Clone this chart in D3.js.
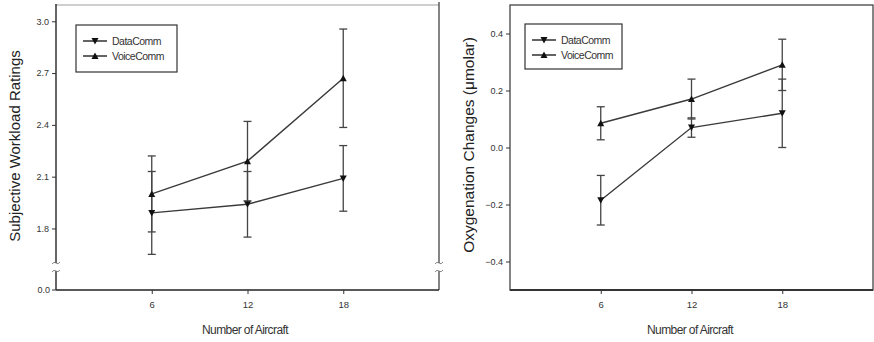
<!DOCTYPE html>
<html><head><meta charset="utf-8">
<script src="https://cdn.jsdelivr.net/npm/d3@7"></script>
<style>body{margin:0;background:#fff}svg{display:block}text{font-family:"Liberation Sans",Arial,sans-serif}</style>
</head><body><svg id="c" width="874" height="342"></svg>
<script>
// ---- data ----
const aircraft = [6, 12, 18];
const seriesNames = ["DataComm", "VoiceComm"];
// Left panel: Subjective Workload Ratings
const workloadData = [1.89, 1.94, 2.09];
const workloadDataErr = [0.24, 0.19, 0.19];
const workloadVoice = [2.00, 2.19, 2.67];
const workloadVoiceErr = [0.22, 0.23, 0.285];
const workloadTicks = [1.8, 2.1, 2.4, 2.7, 3.0];
// Right panel: Oxygenation Changes
const oxyData = [-0.185, 0.07, 0.12];
const oxyDataErr = [0.087, 0.034, 0.12];
const oxyVoice = [0.085, 0.17, 0.29];
const oxyVoiceErr = [0.058, 0.07, 0.09];
const oxyTicks = [-0.4, -0.2, 0.0, 0.2, 0.4];
const xTicks = [6, 12, 18];

const svg = d3.select("#c");
const fmt = d3.format(".1f");
const lineCol = "#3a3a3a";

function panel(cfg) {
  const g = svg.append("g");
  const x = d3.scaleLinear().domain([0, 24]).range([cfg.x0, cfg.x1]);
  const y = d3.scaleLinear().domain(cfg.yDomain).range([cfg.yBot, cfg.yTop]);

  // frame
  if (cfg.box) {
    g.append("rect").attr("x", cfg.x0).attr("y", cfg.yTop).attr("width", cfg.x1 - cfg.x0)
      .attr("height", cfg.plotBot - cfg.yTop).attr("fill", "none").attr("stroke", "#444").attr("stroke-width", 1.3);
    g.append("line").attr("x1", cfg.x0).attr("x2", cfg.x1).attr("y1", cfg.plotBot).attr("y2", cfg.plotBot)
      .attr("stroke", "#333").attr("stroke-width", 2);
  } else {
    g.append("line").attr("x1", cfg.x0).attr("x2", cfg.x1).attr("y1", cfg.yTop + 1).attr("y2", cfg.yTop + 1)
      .attr("stroke", "#cfcfcf").attr("stroke-width", 2);
    g.append("line").attr("x1", cfg.x0).attr("x2", cfg.x1).attr("y1", cfg.plotBot).attr("y2", cfg.plotBot)
      .attr("stroke", "#222").attr("stroke-width", 1.6);
    // left axis with break
    g.append("line").attr("x1", cfg.x0).attr("x2", cfg.x0).attr("y1", cfg.yTop).attr("y2", cfg.yBot)
      .attr("stroke", "#333").attr("stroke-width", 1.5);
    g.append("line").attr("x1", cfg.x0).attr("x2", cfg.x0).attr("y1", cfg.yBot + 8).attr("y2", cfg.plotBot)
      .attr("stroke", "#333").attr("stroke-width", 1.5);
    g.append("line").attr("x1", cfg.x1).attr("x2", cfg.x1).attr("y1", cfg.yTop - 2).attr("y2", cfg.yBot)
      .attr("stroke", "#333").attr("stroke-width", 1.2);
    g.append("line").attr("x1", cfg.x1).attr("x2", cfg.x1).attr("y1", cfg.yBot + 8).attr("y2", cfg.plotBot)
      .attr("stroke", "#333").attr("stroke-width", 1.2);
    [cfg.x0, cfg.x1].forEach(ax => {
      [cfg.yBot, cfg.yBot + 8].forEach(yy => {
        g.append("path").attr("d", `M${ax - 4},${yy + 1} q2,-3 4,-1 q2,2 4,-1`)
          .attr("fill", "none").attr("stroke", "#777").attr("stroke-width", 0.9);
      });
    });
    // 0.0 tick at bottom
    g.append("line").attr("x1", cfg.x0 - 4).attr("x2", cfg.x0).attr("y1", cfg.plotBot).attr("y2", cfg.plotBot).attr("stroke", "#333");
    g.append("text").attr("x", cfg.x0 - 6).attr("y", cfg.plotBot + 3).attr("text-anchor", "end")
      .attr("font-size", 9).attr("fill", "#333").text(fmt(0));
  }

  // y axis ticks
  const ya = g.append("g").attr("transform", `translate(${cfg.x0},0)`)
    .call(d3.axisLeft(y).tickValues(cfg.ticks).tickFormat(fmt).tickSize(4).tickSizeOuter(0));
  ya.select(".domain").remove();
  ya.selectAll("line").attr("stroke", "#333");
  ya.selectAll("text").attr("font-size", 9).attr("fill", "#333").attr("font-family", '"Liberation Sans",Arial,sans-serif');

  // x axis ticks
  const xa = g.append("g").attr("transform", `translate(0,${cfg.plotBot})`)
    .call(d3.axisBottom(x).tickValues(xTicks).tickFormat(d3.format("d")).tickSize(4).tickSizeOuter(0));
  xa.select(".domain").remove();
  xa.selectAll("line").attr("stroke", "#333");
  xa.selectAll("text").attr("font-size", 9.5).attr("fill", "#333").attr("dy", "1.2em").attr("font-family", '"Liberation Sans",Arial,sans-serif');

  // titles
  g.append("text").attr("transform", `translate(${cfg.yTitleX},${cfg.yTitleY}) rotate(-90)`)
    .attr("text-anchor", "middle").attr("font-size", cfg.yTitleSize).attr("fill", "#222").text(cfg.yTitle);
  g.append("text").attr("x", cfg.xTitleX).attr("y", 334).attr("text-anchor", "middle")
    .attr("font-size", 12).attr("letter-spacing", -0.6).attr("fill", "#333").text("Number of Aircraft");

  const series = [
    {vals: cfg.data, err: cfg.dataErr, sym: "down"},
    {vals: cfg.voice, err: cfg.voiceErr, sym: "up"}
  ];
  const tri = (cx, cy, dir) => dir === "up"
    ? `M${cx - 3.5},${cy + 3} L${cx + 3.5},${cy + 3} L${cx},${cy - 3.5} Z`
    : `M${cx - 3.5},${cy - 3} L${cx + 3.5},${cy - 3} L${cx},${cy + 3.5} Z`;

  series.forEach(s => {
    aircraft.forEach((a, i) => {
      const cx = x(a), top = y(s.vals[i] + s.err[i]), bot = y(s.vals[i] - s.err[i]);
      g.append("line").attr("x1", cx).attr("x2", cx).attr("y1", top).attr("y2", bot).attr("stroke", "#444").attr("stroke-width", 1.3);
      [top, bot].forEach(yy => g.append("line").attr("x1", cx - 4).attr("x2", cx + 4).attr("y1", yy).attr("y2", yy)
        .attr("stroke", "#444").attr("stroke-width", 1.3));
    });
  });
  series.forEach(s => {
    const line = d3.line().x((d, i) => x(aircraft[i])).y(d => y(d));
    g.append("path").attr("d", line(s.vals)).attr("fill", "none").attr("stroke", lineCol).attr("stroke-width", 1.4);
    aircraft.forEach((a, i) => g.append("path").attr("d", tri(x(a), y(s.vals[i]), s.sym)).attr("fill", "#111"));
  });

  // legend
  const L = cfg.legend;
  g.append("rect").attr("x", L.x).attr("y", L.y).attr("width", L.w).attr("height", L.h)
    .attr("fill", "#fff").attr("stroke", "#333").attr("stroke-width", 1.2);
  seriesNames.forEach((n, i) => {
    const yy = L.y + 16 + i * 15;
    g.append("line").attr("x1", L.x + 7).attr("x2", L.x + 31).attr("y1", yy).attr("y2", yy).attr("stroke", "#222").attr("stroke-width", 1.4);
    g.append("path").attr("d", tri(L.x + 19, yy, i === 0 ? "down" : "up")).attr("fill", "#111");
    g.append("text").attr("x", L.x + 36).attr("y", yy + 3.5).attr("font-size", 10.5).attr("letter-spacing", -0.5)
      .attr("fill", "#333").text(n);
  });
}

panel({
  x0: 56, x1: 439, yTop: 4, yBot: 263, plotBot: 290, yDomain: [1.6, 3.1], box: false,
  ticks: workloadTicks, data: workloadData, dataErr: workloadDataErr, voice: workloadVoice, voiceErr: workloadVoiceErr,
  yTitle: "Subjective Workload Ratings", yTitleX: 20, yTitleY: 146, yTitleSize: 15, xTitleX: 245,
  legend: {x: 76, y: 25, w: 101, h: 47}
});
panel({
  x0: 510, x1: 873, yTop: 5, yBot: 290, plotBot: 290, yDomain: [-0.5, 0.5], box: true,
  ticks: oxyTicks, data: oxyData, dataErr: oxyDataErr, voice: oxyVoice, voiceErr: oxyVoiceErr,
  yTitle: "Oxygenation Changes (μmolar)", yTitleX: 474, yTitleY: 145, yTitleSize: 15.5, xTitleX: 690,
  legend: {x: 525, y: 24, w: 97, h: 45}
});
</script></body></html>
